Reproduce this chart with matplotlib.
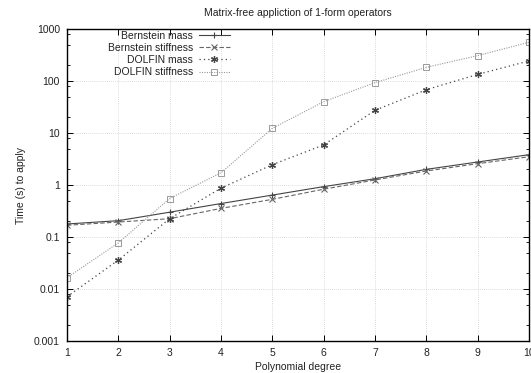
import matplotlib
matplotlib.use('Agg')

import matplotlib.pyplot as plt
from matplotlib.ticker import FixedLocator, FixedFormatter, LogLocator, NullFormatter

plt.rcParams['font.family'] = ['Liberation Sans', 'DejaVu Sans']
plt.rcParams['font.size'] = 7.5

degree = [1, 2, 3, 4, 5, 6, 7, 8, 9, 10]

# timings in seconds
bernstein_mass = [0.178, 0.206, 0.30, 0.44, 0.64, 0.93, 1.32, 2.0, 2.77, 3.83]
bernstein_stiffness = [0.168, 0.194, 0.225, 0.355, 0.53, 0.83, 1.25, 1.86, 2.57, 3.5]
dolfin_mass = [0.0071, 0.036, 0.225, 0.87, 2.46, 5.9, 27.3, 68, 134, 243]
dolfin_stiffness = [0.0165, 0.077, 0.55, 1.72, 12.3, 40, 93, 183, 308, 555]

ytick_vals = [0.001, 0.01, 0.1, 1, 10, 100, 1000]
ytick_labels = ['0.001', '0.01', '0.1', '1', '10', '100', '1000']

fig = plt.figure(figsize=(5.31, 3.73), dpi=100)
ax = fig.add_axes([67 / 531, 1 - 341 / 373, (529 - 67) / 531, (341 - 29) / 373])

ax.plot(degree, bernstein_mass, color='#444444', linestyle='-', linewidth=0.8,
        marker='+', markersize=5, markeredgewidth=0.8, label='Bernstein mass')
ax.plot(degree, bernstein_stiffness, color='#666666', linestyle=(0, (4, 2)), linewidth=0.8,
        marker='x', markersize=4, markeredgewidth=0.8, label='Bernstein stiffness')
ax.plot(degree, dolfin_mass, color='#444444', linestyle=(0, (1, 2.5)), linewidth=0.9,
        marker=(6, 2, 0), markersize=5, markeredgewidth=0.9, label='DOLFIN mass')
ax.plot(degree, dolfin_stiffness, color='#9a9a9a', linestyle=(0, (1, 1.2)), linewidth=0.8,
        marker='s', markersize=5, markerfacecolor='none', markeredgewidth=0.7,
        label='DOLFIN stiffness')

ax.set_yscale('log')
ax.set_xlim(1, 10)
ax.set_ylim(0.001, 1000)
ax.xaxis.set_major_locator(FixedLocator(degree))
ax.yaxis.set_major_locator(FixedLocator(ytick_vals))
ax.yaxis.set_major_formatter(FixedFormatter(ytick_labels))
ax.yaxis.set_minor_locator(LogLocator(base=10, subs=[2, 5, 8]))
ax.yaxis.set_minor_formatter(NullFormatter())

ax.tick_params(which='both', direction='in', top=True, right=True, colors='black',
               labelcolor='#222222')
ax.tick_params(which='major', length=4, width=0.7, pad=5)
ax.tick_params(which='minor', length=2, width=0.6)
for s in ax.spines.values():
    s.set_linewidth(1.0)

ax.grid(True, which='major', linestyle=(0, (1, 2)), linewidth=0.5, color='#bbbbbb')

ax.set_title('Matrix-free appliction of 1-form operators', fontsize=7.5, pad=9,
             color='#222222')
ax.set_xlabel('Polynomial degree', labelpad=3, color='#222222')
ax.set_ylabel('Time (s) to apply', labelpad=6, color='#222222')

# gnuplot-style key: right-aligned labels with the samples after them
leg = ax.legend(loc='upper left', bbox_to_anchor=(0.089, 0.995), markerfirst=False,
                frameon=False, handlelength=3.0, handletextpad=0.5, labelspacing=0.22,
                borderaxespad=0.0, borderpad=0.0)
for t in leg.get_texts():
    t.set_color('#222222')

fig.savefig('out.png', dpi=100)
